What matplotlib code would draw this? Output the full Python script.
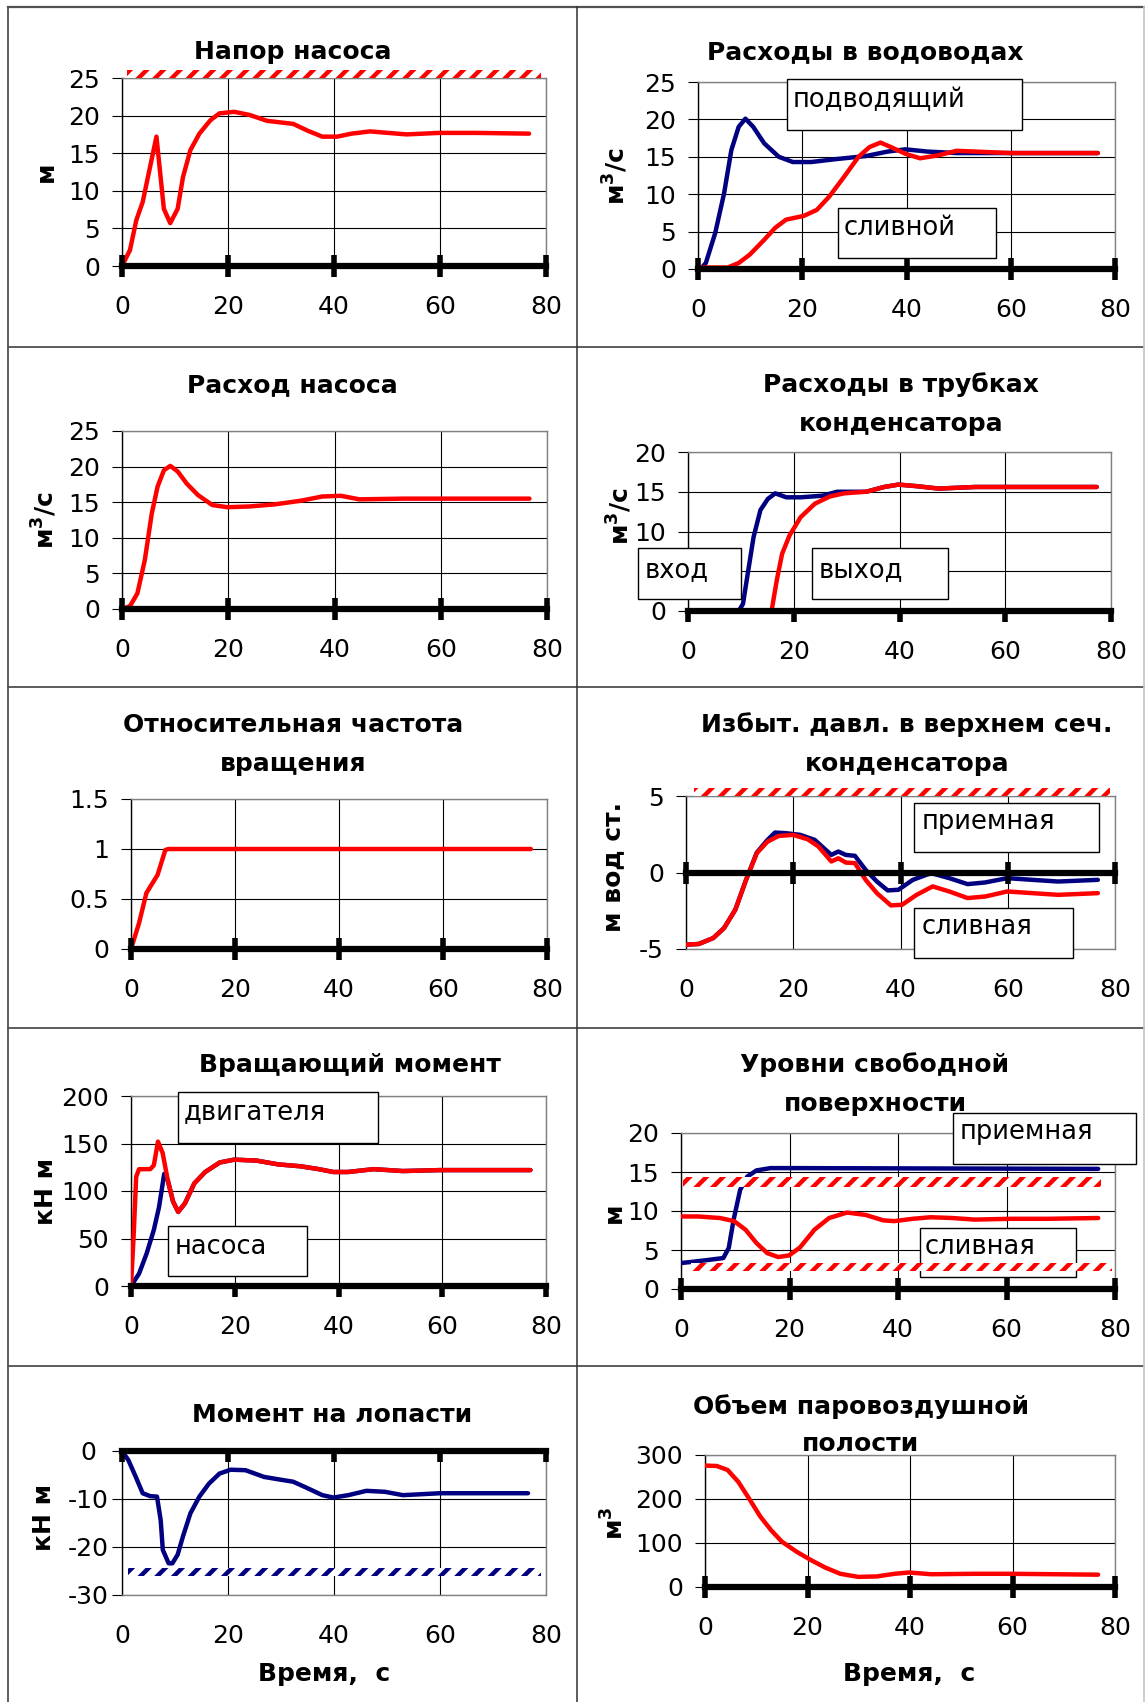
import matplotlib
matplotlib.use('Agg')
import matplotlib.pyplot as plt
from matplotlib.patches import Rectangle
from matplotlib.lines import Line2D
from matplotlib.ticker import MultipleLocator, FuncFormatter

plt.rcParams['font.family'] = ['DejaVu Sans']
plt.rcParams['mathtext.fontset'] = 'dejavusans'
plt.rcParams['axes.unicode_minus'] = False
plt.rcParams['hatch.linewidth'] = 3.2

W, H = 1145, 1702
RED = '#ff0000'
NAVY = '#000080'

x_ticks = [0, 20, 40, 60, 80]

# ---- data (time, s) ----
head_t = [0, 1.5, 2.7, 3.9, 5.3, 6.5, 7.9, 9.1, 10.5, 11.5, 12.9, 14.6, 16.7, 18.4, 21.2, 24,
          27.4, 32.3, 35, 37.8, 40.6, 43.3, 46.8, 50.2, 53.7, 59.9, 66.8, 76.8]
head_v = [0, 2.1, 6.1, 8.5, 13.2, 17.2, 7.6, 5.7, 7.6, 11.8, 15.4, 17.6, 19.4, 20.3, 20.5, 20.1,
          19.3, 18.9, 18.0, 17.2, 17.2, 17.6, 17.9, 17.7, 17.5, 17.7, 17.7, 17.6]
head_limit = [1, 79, 25, 26.1]

supply_t = [0.5, 1.5, 3.3, 5, 6.4, 7.8, 9.1, 10.6, 12.7, 15.5, 18.2, 21.7, 26.6, 32.2, 36.4,
            39.8, 44, 49.6, 60, 76.7]
supply_q = [0, 0.8, 4.8, 10.1, 15.9, 19, 20.1, 19, 16.8, 15, 14.3, 14.3, 14.7, 15.1, 15.7,
            16, 15.7, 15.5, 15.5, 15.5]
drain_t = [0, 5.7, 7.8, 9.9, 12.7, 14.8, 16.9, 20.3, 22.8, 25.2, 28, 30.8, 32.9, 35, 37,
           39.8, 42.6, 46.1, 49.6, 53.1, 60, 76.7]
drain_q = [0.2, 0.2, 0.8, 1.9, 3.9, 5.5, 6.6, 7.1, 7.9, 9.7, 12.3, 15, 16.3, 16.9, 16.3,
           15.4, 14.8, 15.2, 15.8, 15.7, 15.5, 15.5]

pump_t = [0, 1.5, 2.9, 4.3, 5.6, 6.7, 7.9, 9.1, 10.5, 12.2, 14.3, 17, 19.8, 24, 28.8, 33.6,
          37.7, 41.2, 44.7, 52.9, 76.7]
pump_q = [0, 0.4, 2.2, 6.9, 13.4, 17.2, 19.5, 20.1, 19.3, 17.6, 16, 14.6, 14.3, 14.4, 14.7,
          15.2, 15.8, 15.9, 15.4, 15.5, 15.5]

tube_in_t = [0, 9.6, 10.4, 11.3, 12.4, 13.7, 15.1, 16.5, 18.6, 21.3, 25.4, 28.2, 33.7, 37.1,
             39.8, 43.3, 47.4, 54.3, 61.1, 77.3]
tube_in_q = [0, 0, 0.9, 4.7, 9.3, 12.7, 14.1, 14.8, 14.3, 14.3, 14.5, 15, 15, 15.6, 15.9,
             15.7, 15.4, 15.6, 15.6, 15.6]
tube_out_t = [0, 15.8, 16.8, 17.8, 19.2, 21.3, 24, 26.8, 29.5, 33.7, 37.1, 39.8, 43.3, 47.4,
              54.3, 61.1, 77.3]
tube_out_q = [0, 0, 3.9, 7.2, 9.5, 11.8, 13.5, 14.4, 14.8, 15, 15.6, 15.9, 15.7, 15.4, 15.6,
              15.6, 15.6]

speed_t = [0, 1.55, 2.96, 5.1, 6.6, 7.2, 76.9]
speed_n = [0, 0.26, 0.56, 0.74, 0.99, 1.0, 1.0]

press_t = [0, 2.4, 5.1, 7.1, 9.2, 11.2, 13.2, 15.2, 17.3, 20, 22.7, 24.7, 27.1, 28.4, 29.8,
           31.5, 33.5, 35.6, 38.2, 40.3, 43, 46, 49.1, 52.5, 55.8, 59.9, 64.6, 69.4, 76.8]
press_drain = [-4.72, -4.67, -4.28, -3.63, -2.43, -0.48, 1.26, 2.02, 2.39, 2.46, 2.17, 1.7,
               0.72, 0.93, 0.65, 0.61, -0.48, -1.35, -2.15, -2.11, -1.46, -0.91, -1.24, -1.67,
               -1.57, -1.24, -1.35, -1.46, -1.35]
press_in_t = [0, 2.4, 5.1, 7.1, 9.2, 11.2, 13.2, 15.2, 16.6, 18.6, 21.3, 24, 27.1, 28.4, 29.8,
              31.5, 33.5, 35.6, 37.6, 39.6, 42.3, 45.7, 49.1, 52.5, 55.8, 59.9, 64.6, 69.4, 76.8]
press_in = [-4.72, -4.67, -4.28, -3.63, -2.43, -0.48, 1.3, 2.13, 2.61, 2.57, 2.46, 2.13, 1.15,
            1.37, 1.15, 1.09, 0.17, -0.59, -1.17, -1.13, -0.48, -0.04, -0.37, -0.76, -0.65,
            -0.37, -0.48, -0.59, -0.48]
press_limit = [1.5, 79, 5, 5.5]

motor_t = [0, 0.5, 1, 1.55, 3.7, 4.4, 5.2, 6.1, 7.1, 8.1, 9.1, 10.4, 12.2, 14.3, 17.1, 19.9,
           24.2, 28.4, 32.7, 36.2, 39, 41.8, 46.8, 52.4, 59.5, 77]
motor_m = [0, 52, 115, 123, 123, 127, 152, 140, 111, 89, 78, 87, 108, 120, 130, 133, 132, 128,
           126, 123, 120, 120, 123, 121, 122, 122]
pumpm_t = [0, 1.55, 3, 4.4, 5.4, 6.4, 7.1, 8.1, 9.1, 10.4, 12.2, 14.3, 17.1, 19.9, 24.2, 28.4,
           32.7, 36.2, 39, 41.8, 46.8, 52.4, 59.5, 77]
pumpm_m = [0, 13, 34, 59, 83, 118, 111, 89, 78, 87, 108, 120, 130, 133, 132, 128, 126, 123,
           120, 120, 123, 121, 122, 122]

lvl_in_t = [0, 1.8, 4.5, 7.8, 8.8, 9.7, 10.9, 12.2, 13.9, 16.5, 20.6, 76.9]
lvl_in = [3.33, 3.46, 3.68, 3.97, 5.26, 8.89, 12.7, 14.4, 15.2, 15.5, 15.5, 15.4]
lvl_drain_t = [0, 3.1, 7.2, 9.8, 11.9, 13.9, 15.9, 17.9, 19.9, 21.9, 24.6, 27.3, 30.6, 34,
               37.3, 39.3, 42.7, 46, 50, 54.1, 60.8, 67.5, 76.9]
lvl_drain = [9.3, 9.3, 9.1, 8.7, 7.6, 5.9, 4.6, 4.1, 4.3, 5.3, 7.6, 9.1, 9.8, 9.5, 8.8, 8.7,
             9.0, 9.2, 9.1, 8.9, 9.0, 9.0, 9.1]
lvl_limit_hi = [0.4, 77.4, 13.1, 14.4]
lvl_limit_lo = [1.8, 79.4, 2.3, 3.3]

blade_t = [0, 1.2, 2.6, 3.9, 5.3, 6.6, 7.3, 7.7, 8.8, 9.5, 10.5, 11.5, 12.9, 14.6, 16.4, 18.4,
           20.5, 23.3, 26.8, 29.5, 32.3, 35.1, 37.8, 39.9, 42.7, 46.1, 49.6, 53, 60, 66.9, 76.6]
blade_m = [0, -1.9, -5.4, -8.8, -9.4, -9.5, -14.4, -20.6, -23.4, -23.4, -21.6, -17.8, -13,
           -9.5, -6.8, -4.7, -3.9, -4.0, -5.4, -5.9, -6.4, -7.8, -9.2, -9.7, -9.2, -8.3, -8.5,
           -9.2, -8.8, -8.8, -8.8]
blade_limit = [1.2, 79, -26, -24.4]

vol_t = [0, 2.3, 4.4, 6.5, 8.6, 10.8, 12.9, 15, 17.9, 20.7, 23.5, 26.4, 29.9, 33.5, 37, 39.8,
         44.1, 52.6, 59.7, 76.7]
vol_v = [276, 275, 266, 239, 201, 160, 129, 103, 80, 61, 44, 30, 23, 24, 30, 33, 29, 30, 30, 28]


def fx(x):
    return x / W


def fy(y):
    return 1 - y / H


def make_panel(box, ylim, ystep, zero_ticks='inout', hidden=()):
    l, t, r, b = box
    ax = fig.add_axes([fx(l), fy(b), (r - l) / W, (b - t) / H])
    ax.set_xlim(0, 80)
    ax.set_ylim(*ylim)
    ax.set_xticks(x_ticks)
    ax.yaxis.set_major_locator(MultipleLocator(ystep))
    # labels covered by a text box in the original are left blank
    ax.yaxis.set_major_formatter(
        FuncFormatter(lambda v, p: '' if v in hidden else '{:g}'.format(v)))
    ax.grid(True, color='black', lw=0.8)
    ax.set_axisbelow(True)
    ax.tick_params(axis='x', length=0, pad=21, labelsize=18)
    ax.tick_params(axis='y', length=7, width=0.8, pad=9, labelsize=18)
    for s in ax.spines.values():
        s.set_color('#808080')
        s.set_linewidth(1)
    ax.spines['left'].set_color('black')
    # thick category axis drawn through zero
    ax.axhline(0, color='black', lw=4.5, clip_on=False, zorder=4)
    if zero_ticks == 'inout':
        ax.plot(x_ticks, [0] * len(x_ticks), ls='none', marker='|', ms=16, mew=4,
                color='black', clip_on=False, zorder=4)
    else:
        ax.plot(x_ticks, [0] * len(x_ticks), ls='none', marker=3, ms=8, mew=4,
                color='black', clip_on=False, zorder=4)
    return ax


def curve(ax, t, v, color):
    ax.plot(t, v, color=color, lw=3.2, zorder=3, solid_joinstyle='round',
            solid_capstyle='round')


def band(ax, lim, color):
    x0, x1, y0, y1 = lim
    ax.add_patch(Rectangle((x0, y0), x1 - x0, y1 - y0, facecolor='white', edgecolor=color,
                           hatch='//', linewidth=0, clip_on=False, zorder=6))


def label_box(ax, x0, x1, y0, y1, text, tx, ty):
    ax.add_patch(Rectangle((x0, y0), x1 - x0, y1 - y0, facecolor='white', edgecolor='black',
                           linewidth=1, clip_on=False, zorder=5))
    ax.text(tx, ty, text, fontsize=18.5, ha='left', va='center', zorder=5.5)


def title(lines, x, y0, step=39):
    for i, line in enumerate(lines):
        fig.text(fx(x), fy(y0 + i * step), line, fontsize=18, fontweight='bold',
                 ha='center', va='baseline')


def ylab(text, x, y):
    fig.text(fx(x), fy(y), text, fontsize=18, fontweight='bold', rotation=90,
             ha='center', va='center')


fig = plt.figure(figsize=(W / 100, H / 100), dpi=100)

# table grid around the charts
for y in [347, 687, 1028, 1366]:
    fig.add_artist(Line2D([fx(8), fx(1144)], [fy(y), fy(y)], color='#303030', lw=1.1))
fig.add_artist(Line2D([fx(8), fx(1144)], [fy(7), fy(7)], color='#505050', lw=1.6))
fig.add_artist(Line2D([fx(8), fx(8)], [fy(7), fy(1702)], color='#505050', lw=1.3))
fig.add_artist(Line2D([fx(577), fx(577)], [fy(7), fy(1702)], color='#303030', lw=1.1))
fig.add_artist(Line2D([fx(1144), fx(1144)], [fy(7), fy(1702)], color='#c8c8c8', lw=1.3))

# 1. pump head
ax = make_panel((122, 78, 546, 266), (0, 25), 5)
curve(ax, head_t, head_v, RED)
band(ax, head_limit, RED)
title(['Напор насоса'], 293, 59)
ylab('м', 46, 172)

# 2. flows in conduits
ax = make_panel((698, 82, 1115, 269), (0, 25), 5)
curve(ax, supply_t, supply_q, NAVY)
curve(ax, drain_t, drain_q, RED)
label_box(ax, 17.1, 62.2, 18.6, 25.4, 'подводящий', 18.2, 22.6)
label_box(ax, 26.9, 57.2, 1.5, 8.2, 'сливной', 28, 5.5)
title(['Расходы в водоводах'], 865, 59)
ylab(r'м$^\mathbf{3}$/с', 616, 176)

# 3. pump flow
ax = make_panel((122, 431, 547, 609), (0, 25), 5)
curve(ax, pump_t, pump_q, RED)
title(['Расход насоса'], 292, 392)
ylab(r'м$^\mathbf{3}$/с', 45, 520)

# 4. condenser tube flows
ax = make_panel((688, 452, 1111, 611), (0, 20), 5, 'out', hidden=(5,))
curve(ax, tube_in_t, tube_in_q, NAVY)
curve(ax, tube_out_t, tube_out_q, RED)
label_box(ax, -9.5, 10.1, 1.5, 7.9, 'вход', -8.2, 5.2)
label_box(ax, 23.4, 49.2, 1.5, 7.9, 'выход', 24.7, 5.2)
title(['Расходы в трубках', 'конденсатора'], 901, 392)
ylab(r'м$^\mathbf{3}$/с', 620, 516)

# 5. relative speed
ax = make_panel((131, 799, 547, 949), (0, 1.5), 0.5)
curve(ax, speed_t, speed_n, RED)
title(['Относительная частота', 'вращения'], 293, 732)

# 6. overpressure in condenser top section
ax = make_panel((686, 796, 1115, 949), (-5, 5), 5)
curve(ax, press_in_t, press_in, NAVY)
curve(ax, press_t, press_drain, RED)
band(ax, press_limit, RED)
label_box(ax, 42.6, 77.0, 1.34, 4.54, 'приемная', 43.9, 3.3)
label_box(ax, 42.6, 72.1, -5.59, -2.32, 'сливная', 43.9, -3.56)
title(['Избыт. давл. в верхнем сеч.', 'конденсатора'], 907, 732)
ylab('м вод ст.', 613, 867)

# 7. torque
ax = make_panel((131, 1096, 546, 1286), (0, 200), 50, 'out')
curve(ax, pumpm_t, pumpm_m, NAVY)
curve(ax, motor_t, motor_m, RED)
label_box(ax, 9.1, 47.6, 150.5, 204, 'двигателя', 10.2, 183)
label_box(ax, 7.2, 33.9, 10.5, 63, 'насоса', 8.5, 41)
title(['Вращающий момент'], 350, 1072)
ylab('кН м', 46, 1191)

# 8. free surface levels
ax = make_panel((681, 1133, 1115, 1289), (0, 20), 5)
curve(ax, lvl_in_t, lvl_in, NAVY)
curve(ax, lvl_drain_t, lvl_drain, RED)
label_box(ax, 50.1, 83.8, 16.0, 22.6, 'приемная', 51.3, 20.1)
label_box(ax, 44.0, 72.8, 1.5, 7.8, 'сливная', 45.0, 5.4)
band(ax, lvl_limit_hi, RED)
band(ax, lvl_limit_lo, RED)
title(['Уровни свободной', 'поверхности'], 875, 1072)
ylab('м', 614, 1213)

# 9. blade moment
ax = make_panel((122, 1451, 546, 1595), (-30, 0), 10, 'out')
curve(ax, blade_t, blade_m, NAVY)
band(ax, blade_limit, NAVY)
ax.tick_params(axis='y', pad=17)
plt.setp(ax.get_yticklabels(), ha='center')
title(['Момент на лопасти'], 332, 1422)
ylab('кН м', 44, 1517)
fig.text(fx(324), fy(1681), 'Время,  с', fontsize=18, fontweight='bold',
         ha='center', va='baseline')

# 10. steam-air cavity volume
ax = make_panel((705, 1455, 1115, 1587), (0, 300), 100)
curve(ax, vol_t, vol_v, RED)
title(['Объем паровоздушной', 'полости'], 861, 1414, 37)
ylab(r'м$^\mathbf{3}$', 615, 1523)
fig.text(fx(909), fy(1681), 'Время,  с', fontsize=18, fontweight='bold',
         ha='center', va='baseline')

fig.savefig('out.png', dpi=100)
